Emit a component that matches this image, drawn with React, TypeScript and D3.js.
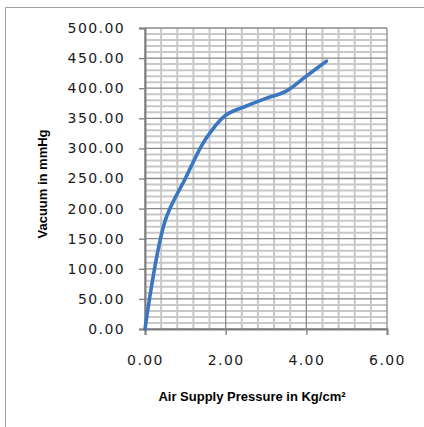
import React, { useRef, useEffect } from "react";
import * as d3 from "d3";

const pressure = [0, 0.5, 1.0, 1.5, 2.0, 2.5, 3.0, 3.5, 4.0, 4.5];
const vacuum = [0, 180, 250, 315, 355, 370, 383, 395, 420, 445];
const xTicks = [0, 2, 4, 6];
const yTicks = [0, 50, 100, 150, 200, 250, 300, 350, 400, 450, 500];

const W = 424;
const H = 427;

const App = () => {
  const svgRef = useRef<SVGSVGElement>(null);

  useEffect(() => {
    const margin = { top: 28, right: 37, bottom: 98, left: 145 };
    const svg = d3.select(svgRef.current);
    svg.selectAll("*").remove();

    const x = d3.scaleLinear().domain([0, 6]).range([margin.left, W - margin.right]);
    const y = d3.scaleLinear().domain([0, 500]).range([H - margin.bottom, margin.top]);

    // outer frame (only top and left visible)
    svg.append("line").attr("x1", 5.5).attr("y1", 7.5).attr("x2", W).attr("y2", 7.5)
      .attr("stroke", "#a0a0a0");
    svg.append("line").attr("x1", 5.5).attr("y1", 7.5).attr("x2", 5.5).attr("y2", H)
      .attr("stroke", "#a0a0a0");

    // minor grid
    const grid = svg.append("g");
    grid.selectAll("line.mx")
      .data(d3.range(0, 6.001, 0.4).filter((v) => Math.abs(v / 2 - Math.round(v / 2)) > 0.01))
      .join("line")
      .attr("x1", (d) => x(d)).attr("x2", (d) => x(d))
      .attr("y1", y(500)).attr("y2", y(0))
      .attr("stroke", "#c8c8c8").attr("stroke-width", 2);
    grid.selectAll("line.my")
      .data(d3.range(0, 501, 10).filter((v) => v % 50 !== 0))
      .join("line")
      .attr("y1", (d) => y(d)).attr("y2", (d) => y(d))
      .attr("x1", x(0)).attr("x2", x(6))
      .attr("stroke", "#c8c8c8").attr("stroke-width", 2);

    // major grid
    grid.append("g").selectAll("line")
      .data(xTicks)
      .join("line")
      .attr("x1", (d) => x(d)).attr("x2", (d) => x(d))
      .attr("y1", y(500)).attr("y2", y(0))
      .attr("stroke", "#8a8a8a").attr("stroke-width", 1.3);
    grid.append("g").selectAll("line")
      .data(yTicks)
      .join("line")
      .attr("y1", (d) => y(d)).attr("y2", (d) => y(d))
      .attr("x1", x(0)).attr("x2", x(6))
      .attr("stroke", "#8a8a8a").attr("stroke-width", 1.3);

    const tickText = (g) => g.selectAll(".tick text")
      .attr("fill", "#1a1a1a")
      .style("font-family", "'DejaVu Sans', Verdana, sans-serif")
      .style("font-size", "14px")
      .style("letter-spacing", "1.4px");

    // Y axis
    svg.append("g")
      .attr("transform", `translate(${x(0)},0)`)
      .call(d3.axisLeft(y).tickValues(yTicks).tickSize(6).tickPadding(14).tickFormat(d3.format(".2f")))
      .call((g) => g.select(".domain").attr("stroke", "#808080").attr("stroke-width", 2))
      .call((g) => g.selectAll(".tick line").attr("stroke", "#808080").attr("stroke-width", 1.3))
      .call(tickText);

    // X axis
    svg.append("g")
      .attr("transform", `translate(0,${y(0)})`)
      .call(d3.axisBottom(x).tickValues(xTicks).tickSize(6).tickPadding(20).tickFormat(d3.format(".2f")))
      .call((g) => g.select(".domain").attr("stroke", "#808080").attr("stroke-width", 2))
      .call((g) => g.selectAll(".tick line").attr("stroke", "#808080").attr("stroke-width", 1.3))
      .call(tickText);

    // the curve
    const data = pressure.map((p, i) => ({ p, v: vacuum[i] }));
    const line = d3.line<{ p: number; v: number }>()
      .x((d) => x(d.p))
      .y((d) => y(d.v))
      .curve(d3.curveCatmullRom.alpha(0.5));
    svg.append("path")
      .datum(data)
      .attr("fill", "none")
      .attr("stroke", "#3b77c1")
      .attr("stroke-width", 3.6)
      .attr("stroke-linecap", "round")
      .attr("d", line);

    // axis titles
    svg.append("text")
      .attr("transform", `translate(47,184) rotate(-90)`)
      .attr("text-anchor", "middle")
      .style("font-family", "'Liberation Sans', Arial, sans-serif")
      .style("font-weight", "bold")
      .style("font-size", "13px")
      .text("Vacuum in mmHg");

    svg.append("text")
      .attr("x", 252)
      .attr("y", 401)
      .attr("text-anchor", "middle")
      .style("font-family", "'Liberation Sans', Arial, sans-serif")
      .style("font-weight", "bold")
      .style("font-size", "13px")
      .text("Air Supply Pressure in Kg/cm²");
  }, []);

  return (
    <div style={{ position: "absolute", left: 0, top: 0 }}>
      <svg ref={svgRef} width={W} height={H} style={{ display: "block", background: "#fff" }}></svg>
    </div>
  );
};

export default App;
